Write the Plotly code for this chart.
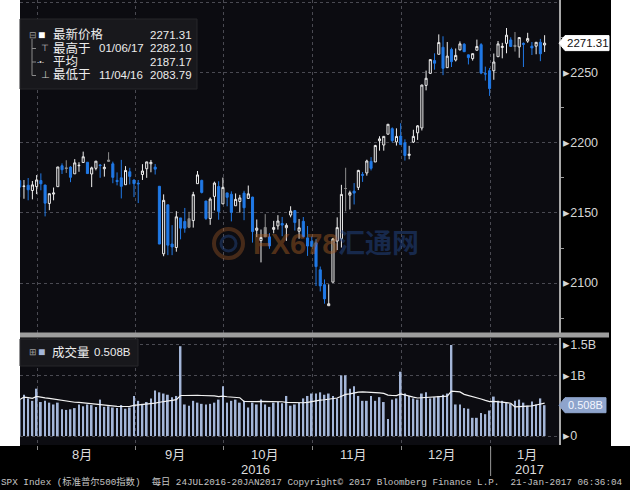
import plotly.graph_objects as go
import pandas as pd

# ---------------- data ----------------
dates = [
    "2016-07-25", "2016-07-26", "2016-07-27", "2016-07-28", "2016-07-29",
    "2016-08-01", "2016-08-02", "2016-08-03", "2016-08-04", "2016-08-05", "2016-08-08", "2016-08-09", "2016-08-10",
    "2016-08-11", "2016-08-12", "2016-08-15", "2016-08-16", "2016-08-17", "2016-08-18", "2016-08-19", "2016-08-22",
    "2016-08-23", "2016-08-24", "2016-08-25", "2016-08-26", "2016-08-29", "2016-08-30", "2016-08-31",
    "2016-09-01", "2016-09-02", "2016-09-06", "2016-09-07", "2016-09-08", "2016-09-09", "2016-09-12", "2016-09-13",
    "2016-09-14", "2016-09-15", "2016-09-16", "2016-09-19", "2016-09-20", "2016-09-21", "2016-09-22", "2016-09-23",
    "2016-09-26", "2016-09-27", "2016-09-28", "2016-09-29", "2016-09-30",
    "2016-10-03", "2016-10-04", "2016-10-05", "2016-10-06", "2016-10-07", "2016-10-10", "2016-10-11", "2016-10-12",
    "2016-10-13", "2016-10-14", "2016-10-17", "2016-10-18", "2016-10-19", "2016-10-20", "2016-10-21", "2016-10-24",
    "2016-10-25", "2016-10-26", "2016-10-27", "2016-10-28", "2016-10-31",
    "2016-11-01", "2016-11-02", "2016-11-03", "2016-11-04", "2016-11-07", "2016-11-08", "2016-11-09", "2016-11-10",
    "2016-11-11", "2016-11-14", "2016-11-15", "2016-11-16", "2016-11-17", "2016-11-18", "2016-11-21", "2016-11-22",
    "2016-11-23", "2016-11-25", "2016-11-28", "2016-11-29", "2016-11-30",
    "2016-12-01", "2016-12-02", "2016-12-05", "2016-12-06", "2016-12-07", "2016-12-08", "2016-12-09", "2016-12-12",
    "2016-12-13", "2016-12-14", "2016-12-15", "2016-12-16", "2016-12-19", "2016-12-20", "2016-12-21", "2016-12-22",
    "2016-12-23", "2016-12-27", "2016-12-28", "2016-12-29", "2016-12-30",
    "2017-01-03", "2017-01-04", "2017-01-05", "2017-01-06", "2017-01-09", "2017-01-10", "2017-01-11", "2017-01-12",
    "2017-01-13", "2017-01-17", "2017-01-18", "2017-01-19", "2017-01-20",
]

opens = [
    2173.1, 2168.97, 2169.81, 2166.05, 2168.83,
    2173.15, 2169.94, 2156.81, 2163.51, 2168.79, 2183.76, 2182.24, 2182.81, 2177.97, 2183.74, 2186.08, 2186.24,
    2177.84, 2181.90, 2184.24, 2181.58, 2187.81, 2185.09, 2173.29, 2175.10, 2170.19, 2179.45, 2173.56,
    2171.33, 2177.49, 2181.61, 2185.17, 2182.76, 2169.08, 2120.86, 2155.85, 2127.86, 2125.36, 2146.48, 2143.99,
    2145.94, 2144.58, 2170.94, 2173.29, 2158.54, 2146.04, 2161.85, 2168.90, 2156.51,
    2164.33, 2163.37, 2155.15, 2158.22, 2164.19, 2160.39, 2161.35, 2137.67, 2130.26, 2139.68, 2132.95, 2138.31,
    2140.81, 2142.51, 2139.43, 2148.50, 2151.69, 2136.97, 2144.06, 2132.23, 2129.78,
    2128.68, 2109.43, 2098.80, 2083.79, 2100.59, 2129.92, 2131.56, 2167.49, 2162.71, 2165.64, 2168.29, 2177.53,
    2178.61, 2186.85, 2186.43, 2201.56, 2198.55, 2206.27, 2210.21, 2200.76, 2204.97,
    2200.17, 2191.12, 2200.65, 2207.26, 2210.72, 2241.13, 2249.73, 2258.83, 2263.32, 2268.35, 2253.77, 2266.81,
    2259.24, 2266.50, 2270.54, 2262.93, 2260.25, 2266.23, 2270.23, 2249.50, 2251.61,
    2251.57, 2261.60, 2268.18, 2271.14, 2273.59, 2269.72, 2268.60, 2271.14, 2272.74, 2269.14, 2269.14, 2271.90,
    2269.96,
]

highs = [
    2173.7, 2173.54, 2174.98, 2172.85, 2177.09,
    2178.29, 2170.20, 2163.79, 2168.19, 2182.87, 2185.44, 2187.66, 2183.41, 2188.45, 2186.28, 2193.81, 2186.24,
    2183.08, 2187.03, 2185.00, 2185.15, 2193.42, 2186.66, 2179.00, 2187.94, 2183.48, 2182.27, 2173.79,
    2173.56, 2184.87, 2186.57, 2187.87, 2184.94, 2169.08, 2163.30, 2155.85, 2141.33, 2151.31, 2146.48, 2153.61,
    2150.80, 2165.11, 2179.99, 2173.75, 2158.54, 2161.13, 2172.40, 2172.67, 2175.30,
    2164.41, 2165.46, 2163.95, 2162.93, 2165.86, 2169.60, 2161.56, 2145.36, 2138.19, 2149.19, 2135.61, 2144.38,
    2148.44, 2147.18, 2142.63, 2154.79, 2151.69, 2145.73, 2147.13, 2140.72, 2133.25,
    2131.45, 2111.76, 2102.56, 2099.07, 2132.00, 2146.87, 2170.10, 2182.30, 2165.92, 2171.36, 2180.84, 2179.22,
    2188.06, 2189.89, 2198.70, 2204.80, 2204.72, 2213.35, 2211.14, 2210.46, 2214.10,
    2202.60, 2197.95, 2209.42, 2212.78, 2241.63, 2251.69, 2259.80, 2264.03, 2277.53, 2276.20, 2272.12, 2268.05,
    2267.47, 2272.56, 2271.23, 2263.18, 2263.79, 2273.82, 2271.31, 2254.51, 2253.58,
    2263.88, 2272.82, 2271.50, 2282.10, 2275.49, 2279.27, 2275.32, 2271.78, 2278.68, 2272.08, 2272.01, 2274.33,
    2276.96,
]

lows = [
    2161.2, 2160.18, 2159.07, 2159.74, 2163.49,
    2166.21, 2147.58, 2152.00, 2159.07, 2168.79, 2177.85, 2178.61, 2172.00, 2177.97, 2179.42, 2186.08, 2178.14,
    2168.50, 2180.46, 2175.13, 2175.96, 2186.80, 2171.25, 2169.74, 2160.39, 2170.19, 2170.41, 2161.35,
    2157.09, 2173.59, 2175.10, 2179.07, 2177.49, 2127.81, 2119.12, 2119.90, 2119.90, 2122.36, 2131.20, 2135.91,
    2139.17, 2139.57, 2170.94, 2163.97, 2145.04, 2141.55, 2151.79, 2145.20, 2156.51,
    2154.77, 2144.01, 2155.15, 2150.28, 2144.85, 2160.39, 2128.84, 2132.77, 2114.72, 2132.98, 2124.43, 2135.49,
    2138.15, 2133.44, 2130.09, 2146.91, 2137.50, 2131.59, 2132.52, 2119.36, 2125.53,
    2097.85, 2094.00, 2085.23, 2083.79, 2100.59, 2123.56, 2125.35, 2151.17, 2152.49, 2156.08, 2166.38, 2172.20,
    2176.65, 2180.38, 2186.43, 2194.51, 2194.51, 2206.27, 2200.36, 2198.15, 2198.81,
    2187.44, 2188.37, 2199.97, 2202.21, 2208.93, 2237.57, 2249.23, 2252.37, 2263.32, 2248.44, 2253.77, 2254.24,
    2258.21, 2266.14, 2265.15, 2256.08, 2258.84, 2266.15, 2249.11, 2244.56, 2233.62,
    2245.13, 2261.60, 2260.45, 2264.06, 2268.90, 2265.27, 2260.83, 2254.25, 2271.51, 2262.81, 2263.35, 2258.41,
    2265.01,
]

closes = [
    2168.48, 2169.18, 2166.58, 2170.06, 2173.60,
    2170.84, 2157.03, 2163.79, 2164.25, 2182.87, 2180.89, 2181.74, 2175.49, 2185.79, 2184.05, 2190.15, 2178.15,
    2182.22, 2187.02, 2183.87, 2182.64, 2186.90, 2175.44, 2172.47, 2169.04, 2180.38, 2176.12, 2170.95,
    2170.86, 2179.98, 2186.48, 2186.16, 2181.30, 2127.81, 2159.04, 2127.02, 2125.77, 2147.26, 2139.16, 2139.12,
    2139.76, 2163.12, 2177.18, 2164.69, 2146.10, 2159.93, 2171.37, 2151.13, 2168.27,
    2161.20, 2150.49, 2159.73, 2160.77, 2153.74, 2163.66, 2136.73, 2139.18, 2132.55, 2132.98, 2126.50, 2139.60,
    2144.29, 2141.34, 2141.16, 2151.33, 2143.16, 2139.43, 2133.04, 2126.41, 2126.15,
    2111.72, 2097.94, 2088.66, 2085.18, 2131.52, 2139.56, 2163.26, 2167.48, 2164.45, 2164.20, 2180.39, 2176.94,
    2187.12, 2181.90, 2198.18, 2202.94, 2204.72, 2213.35, 2201.72, 2204.66, 2198.81,
    2191.08, 2191.95, 2204.71, 2212.23, 2241.35, 2246.19, 2259.53, 2256.96, 2271.72, 2253.28, 2262.03, 2258.07,
    2262.53, 2270.76, 2265.18, 2260.96, 2263.79, 2268.88, 2249.92, 2249.26, 2238.83,
    2257.83, 2270.75, 2269.00, 2276.98, 2268.90, 2268.90, 2275.32, 2270.44, 2274.64, 2267.89, 2271.89, 2263.69,
    2271.31,
]

volume_b = [
    0.60, 0.68, 0.62, 0.58, 0.78,
    0.56, 0.58, 0.55, 0.52, 0.55, 0.44, 0.43, 0.44, 0.46, 0.52, 0.49, 0.52, 0.51, 0.48, 0.60, 0.48, 0.49,
    0.47, 0.46, 0.51, 0.45, 0.47, 0.66,
    0.58, 0.53, 0.56, 0.62, 0.75, 0.72, 0.70, 0.68, 0.64, 0.66, 1.48, 0.52, 0.50, 0.58, 0.55, 0.53, 0.52,
    0.53, 0.55, 0.60, 0.82,
    0.55, 0.58, 0.60, 0.55, 0.58, 0.47, 0.55, 0.52, 0.60, 0.52, 0.48, 0.55, 0.56, 0.54, 0.66, 0.50, 0.52,
    0.55, 0.62, 0.66, 0.70,
    0.70, 0.72, 0.68, 0.70, 0.66, 0.62, 1.00, 1.00, 0.78, 0.82, 0.66, 0.58, 0.58, 0.66, 0.58, 0.64, 0.56,
    0.28, 0.60, 0.62, 1.06,
    0.70, 0.66, 0.62, 0.60, 0.70, 0.72, 0.62, 0.64, 0.66, 0.68, 0.70, 1.50, 0.52, 0.52, 0.46, 0.45, 0.30,
    0.30, 0.38, 0.36, 0.42,
    0.65, 0.58, 0.58, 0.55, 0.53, 0.58, 0.60, 0.55, 0.50, 0.57, 0.52, 0.62, 0.508,
]

month_names = ["8月", "9月", "10月", "11月", "12月", "1月"]
year_names = ["2016", "2017"]
price_ticks = [2100, 2150, 2200, 2250, 2300]
price_minor = [2075, 2125, 2175, 2225, 2275]
vol_ticks = [0, 1, 1.5]
vol_tick_text = ["0", "1B", "1.5B"]

legend_labels = ["最新价格", "最高于", "平均", "最低于"]
legend_dates = ["", "01/06/17", "", "11/04/16"]
legend_values = ["2271.31", "2282.10", "2187.17", "2083.79"]
last_price = 2271.31
last_volume = 0.508
footer = "SPX Index (标准普尔500指数)  每日 24JUL2016-20JAN2017 Copyright© 2017 Bloomberg Finance L.P.  21-Jan-2017 06:36:04"

# ---------------- helpers ----------------
W, H = 630, 490
def PX(p):
    return p / W
def PY(p):
    return 1 - p / H

BG = "#0c0c11"
BLUE = "#2079e6"
GRAY = "#8d8d8d"
WHITE = "#eeeeee"
VOLC = "#a4b6d8"
GRID = "#4a4a52"
SANS = "'Liberation Sans', 'Noto Sans CJK SC', sans-serif"
AXF = dict(family=SANS, size=12.5, color="#d6d6d6")

n = len(dates)
idx = list(range(n))
dt = pd.to_datetime(pd.Series(dates))
prev = [opens[0]] + closes[:-1]

# candle classes derived from the data
groups = {"white": [], "gray": [], "blue": []}
for i in idx:
    if closes[i] >= opens[i]:
        groups["white"].append(i)
    elif closes[i] >= prev[i]:
        groups["gray"].append(i)
    else:
        groups["blue"].append(i)

styles = {
    "white": dict(line=WHITE, fill=BG),
    "gray": dict(line=GRAY, fill=GRAY),
    "blue": dict(line=BLUE, fill=BLUE),
}

fig = go.Figure()
for key, members in groups.items():
    st = styles[key]
    fig.add_trace(go.Candlestick(
        x=members,
        open=[opens[i] for i in members],
        high=[highs[i] for i in members],
        low=[lows[i] for i in members],
        close=[closes[i] for i in members],
        increasing=dict(line=dict(color=st["line"], width=1), fillcolor=st["fill"]),
        decreasing=dict(line=dict(color=st["line"], width=1), fillcolor=st["fill"]),
        whiskerwidth=0, showlegend=False, hoverinfo="skip",
        xaxis="x", yaxis="y",
    ))

vol_ma = pd.Series(volume_b).rolling(15, min_periods=1).mean()
fig.add_trace(go.Bar(x=idx, y=volume_b, width=0.42, marker=dict(color=VOLC, line=dict(width=0)),
                     xaxis="x2", yaxis="y2", showlegend=False, hoverinfo="skip"))
fig.add_trace(go.Scatter(x=idx, y=vol_ma, mode="lines", line=dict(color="#f2f2f2", width=1.2),
                         xaxis="x2", yaxis="y2", showlegend=False, hoverinfo="skip"))

# month boundaries (first trading day of each month)
bounds = [i for i in range(1, n) if dt[i].month != dt[i - 1].month]
OFF = 0.75
grid_pos = [b - OFF for b in bounds]
x_range = [0.07, 127.4]

x_common = dict(range=x_range, domain=[PX(20), PX(559)], showticklabels=False, tickvals=grid_pos,
                showgrid=True, gridcolor=GRID, griddash="dot", gridwidth=1, zeroline=False, showline=False)

fig.update_layout(
    width=W, height=H, autosize=False,
    margin=dict(l=0, r=0, t=0, b=0),
    paper_bgcolor="#000000", plot_bgcolor=BG,
    showlegend=False,
    xaxis=dict(**x_common, anchor="y", ticks="", rangeslider=dict(visible=False)),
    xaxis2=dict(**x_common, anchor="y2", matches="x", ticks="outside", ticklen=4, tickcolor="#8a8a8a",
                tickwidth=1),
    yaxis=dict(domain=[PY(333), 1], range=[2064.3, 2302.1], side="right", anchor="x",
               tickvals=price_ticks,
               ticktext=["▸" + str(t) if t < 2300 else "▸" for t in price_ticks],
               tickfont=AXF, ticks="", ticklabelstandoff=0,
               showgrid=True, gridcolor=GRID, griddash="dot", zeroline=False,
               showline=True, linecolor="#a8a8a8", linewidth=1.5,
               minor=dict(tickvals=price_minor, ticks="outside", ticklen=3, tickcolor="#9a9a9a", showgrid=False)),
    yaxis2=dict(domain=[PY(445), PY(338)], range=[-0.148, 1.615], side="right", anchor="x2",
                tickvals=vol_ticks, ticktext=["▸" + t for t in vol_tick_text], tickfont=AXF, ticks="",
                ticklabelstandoff=0,
                showgrid=True, gridcolor=GRID, griddash="dot", zeroline=False,
                showline=True, linecolor="#a8a8a8", linewidth=1.5),
)

shapes = []
# white margins beside the panels
shapes.append(dict(type="rect", xref="paper", yref="paper", x0=0, x1=PX(20), y0=PY(446), y1=1,
                   fillcolor="#ffffff", line=dict(width=0), layer="below"))
shapes.append(dict(type="rect", xref="paper", yref="paper", x0=PX(611), x1=1, y0=PY(446), y1=1,
                   fillcolor="#ffffff", line=dict(width=0), layer="below"))
# separator between panels
shapes.append(dict(type="rect", xref="paper", yref="paper", x0=PX(20), x1=PX(609), y0=PY(337.5), y1=PY(332.5),
                   fillcolor="#9e9e9e", line=dict(width=0)))
# legend boxes
shapes.append(dict(type="rect", xref="paper", yref="paper", x0=PX(20), x1=PX(197), y0=PY(89), y1=PY(19),
                   fillcolor="#18181c", line=dict(color="#26262a", width=1)))
shapes.append(dict(type="rect", xref="paper", yref="paper", x0=PX(20), x1=PX(138), y0=PY(366), y1=PY(339),
                   fillcolor="#18181c", line=dict(color="#26262a", width=1)))
# legend tree lines
shapes.append(dict(type="line", xref="paper", yref="paper", x0=PX(32), x1=PX(32), y0=PY(39), y1=PY(75.5),
                   line=dict(color="#8a8a8a", width=1)))
for ry in [48.5, 62, 75.5]:
    shapes.append(dict(type="line", xref="paper", yref="paper", x0=PX(32), x1=PX(36), y0=PY(ry), y1=PY(ry),
                       line=dict(color="#8a8a8a", width=1)))

# last-price tag
def tag_path(yc, x_right, half=7.5):
    pts = [(559, yc), (565, yc - half), (x_right, yc - half), (x_right, yc + half), (565, yc + half)]
    return "M " + " L ".join(f"{PX(a):.5f},{PY(b):.5f}" for a, b in pts) + " Z"

y_last = (2302.1 - last_price) / (2302.1 - 2064.3) * 333
y_vol = 338 + (1.615 - last_volume) / (1.615 + 0.148) * 107
shapes.append(dict(type="path", xref="paper", yref="paper", path=tag_path(y_last, 609),
                   fillcolor="#ffffff", line=dict(color="#ffffff", width=1)))
shapes.append(dict(type="path", xref="paper", yref="paper", path=tag_path(y_vol, 606),
                   fillcolor="#8ea4cc", line=dict(color="#8ea4cc", width=1)))
# year divider
jan_b = grid_pos[-1]
shapes.append(dict(type="line", xref="x", yref="paper", x0=jan_b, x1=jan_b, y0=PY(476), y1=PY(447),
                   line=dict(color="#9a9a9a", width=1)))
# watermark logo ring
shapes.append(dict(type="circle", xref="paper", yref="paper", x0=PX(214), x1=PX(243), y0=PY(258), y1=PY(229),
                   line=dict(color="rgba(180,100,40,0.35)", width=4)))
shapes.append(dict(type="circle", xref="paper", yref="paper", x0=PX(221), x1=PX(236), y0=PY(251), y1=PY(236),
                   line=dict(color="rgba(40,80,150,0.4)", width=3)))

fig.update_layout(shapes=shapes)

ann = []
def T(text, x, y, size=12, color="#ececec", xanchor="left", family=SANS, xref="paper"):
    ann.append(dict(text=text, x=x if xref != "paper" else PX(x), y=PY(y), xref=xref, yref="paper",
                    showarrow=False, xanchor=xanchor, yanchor="middle", borderpad=0,
                    font=dict(size=size, color=color, family=family)))

# price legend
rows_y = [35, 48.5, 62, 75.5]
T("⊟", 28, rows_y[0], size=9, color="#9a9a9a")
T("■", 37, rows_y[0], size=12, color="#ffffff")
T("⊤", 40, rows_y[1], size=9, color="#cfcfcf")
T("-•-", 36, rows_y[2], size=7, color="#cfcfcf")
T("⊥", 40, rows_y[3], size=9, color="#cfcfcf")
for lab, dte, val, ry in zip(legend_labels, legend_dates, legend_values, rows_y):
    T(lab, 52, ry, size=12.5)
    if dte:
        T(dte, 98, ry, size=11.5)
    T(val, 193, ry, size=11.5, xanchor="right")

# volume legend
T("⊞", 28, 352, size=9, color="#9a9a9a")
T("■", 37, 352, size=12, color=VOLC)
T("成交量", 51, 352, size=12.5)
T(f"{last_volume:.3f}B", 93, 352, size=11.5)

# tags
T(f"{last_price:.2f}", 587.5, y_last, size=11.5, color="#111111", xanchor="center")
T(f"{last_volume:.3f}B", 585.5, y_vol, size=11, color="#f4f6ff", xanchor="center")

# month labels
edges = grid_pos + [x_range[1]]
for k, name in enumerate(month_names):
    mid = (edges[k] + edges[k + 1]) / 2 - (1.0 if k < len(month_names) - 1 else -0.5)
    T(name, mid, 454, size=13, color="#dcdcdc", xanchor="center", xref="x")
# year labels
T(year_names[0], (x_range[0] + jan_b) / 2, 469, size=13, color="#dcdcdc", xanchor="center", xref="x")
T(year_names[1], (jan_b + x_range[1]) / 2 + 1, 469, size=13, color="#dcdcdc", xanchor="center", xref="x")

# footer
T(footer, 0, 482, size=9.3, color="#c4c4c4", family="'Liberation Mono', 'Noto Sans CJK SC', monospace")

# watermark
T("<b>FX678</b>", 252, 244, size=29, color="rgba(170,95,35,0.45)", family=SANS)
T("<b>汇通网</b>", 337, 244, size=27, color="rgba(35,70,135,0.5)", family=SANS)

fig.update_layout(annotations=ann)

fig.write_html("out.html", config={"displayModeBar": False},
               post_script="document.body.style.margin='0';document.body.style.overflow='hidden';")
